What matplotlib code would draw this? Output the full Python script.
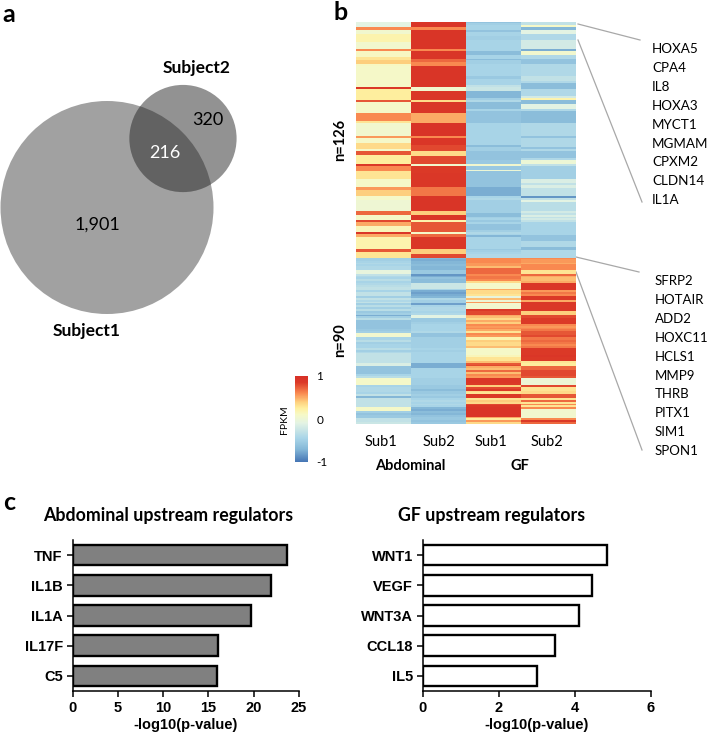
import numpy as np
from matplotlib import pyplot as plt
from matplotlib.cm import ScalarMappable
from matplotlib.colors import LinearSegmentedColormap, Normalize
from matplotlib.patches import Circle

FIG_W, FIG_H = 709, 732

# venn counts
only_subject1 = 1901
shared = 216
only_subject2 = 320

# heatmap, one list per column, top to bottom (n=126 block)
abd_sub1_top = [
    -.1, -.1, -.1, .6, .6, .05, .05, .2, .2, .2,
    .2, .05, .05, .05, .05, .6, .12, .12, .12, .3,
    .3, .4, .4, .12, .1, .1, .1, .1, .1, .1,
    .1, .1, .1, .1, .1, .85, .25, .25, .25, .25,
    .25, .25, .75, .1, .1, .1, .1, .1, .1, .6,
    .6, .6, .6, .3, .05, .05, .05, .05, .05, .05,
    .05, .55, .1, .1, .1, .35, .35, .35, .1, .75,
    .75, .25, .25, .25, .25, .25, .85, .6, .6, .6,
    .3, .3, .3, .3, .1, .1, .1, .1, .55, .55,
    .4, .4, .4, .1, .1, .02, .02, .02, .02, .02,
    .02, .7, .7, .1, .1, .1, .8, .5, .5, .15,
    .15, .15, .9, .5, .5, .2, .2, .2, .2, .2,
    .2, .75, .75, .3, .3, .3,
]
abd_sub2_top = [
    .92, .92, .92, .6, .6, .92, .92, .92, .92, .92,
    .92, .92, .92, .92, .92, .6, .92, .92, .92, .92,
    .7, .7, .6, .6, .92, .92, .92, .92, .92, .92,
    .92, .92, .92, .92, .92, .05, .05, .88, .88, .88,
    .88, .88, .35, .92, .92, .92, .92, .92, .92, .5,
    .5, .5, .5, .5, .95, .95, .95, .95, .95, .95,
    .95, .6, .9, .9, .9, .9, .8, .8, .8, .35,
    .35, .35, .8, .8, .8, .8, .05, .85, .85, .85,
    .85, .88, .88, .88, .88, .88, .88, .88, .65, .65,
    .65, .65, .65, .92, .92, .92, .92, .92, .92, .92,
    .92, .4, .4, .9, .9, .9, .2, .75, .75, .75,
    .75, .75, .1, .7, .7, .88, .88, .88, .88, .88,
    .88, .4, .4, .4, .8, .8,
]
gf_sub1_top = [
    -.6, -.5, -.45, -.45, -.45, -.6, -.45, -.45, -.5, -.5,
    -.45, -.45, -.45, -.45, -.45, -.45, -.65, -.65, -.45, -.45,
    -.65, -.5, -.5, -.45, -.45, -.45, -.45, -.45, -.45, -.55,
    -.55, -.45, -.45, -.45, -.3, -.25, -.25, -.7, -.7, -.7,
    -.7, -.5, -.4, -.65, -.65, -.65, -.65, -.45, -.6, -.6,
    -.6, -.6, -.6, -.6, -.45, -.45, -.45, -.45, -.45, -.45,
    -.45, -.45, -.45, -.45, -.45, -.45, -.65, -.5, -.5, -.6,
    -.6, -.6, -.6, -.6, -.55, -.55, .05, -.55, -.55, 0,
    -.6, -.6, -.6, -.6, -.6, -.6, -.6, -.6, -.75, -.75,
    -.75, -.75, -.75, -.45, -.4, -.5, -.5, -.5, -.5, -.5,
    -.5, -.5, -.65, -.65, -.5, -.45, -.55, -.45, -.6, -.6,
    -.6, -.5, -.4, -.45, -.7, -.45, -.45, -.45, -.45, -.45,
    -.45, -.55, -.5, -.45, -.4, -.4,
]
gf_sub2_top = [
    -.3, -.3, .1, -.7, -.7, -.1, -.1, -.4, -.4, -.4,
    -.2, -.2, -.2, -.2, -.2, -.75, .05, .05, -.4, -.4,
    -.6, -.6, -.6, -.4, -.4, -.4, -.4, -.4, -.4, -.3,
    -.3, -.3, -.4, -.65, -.65, -.65, -.4, -.4, -.4, -.4,
    -.2, .2, -.65, -.65, -.1, -.1, -.1, -.4, -.65, -.65,
    -.65, -.65, -.65, -.65, -.4, -.4, -.4, -.4, -.4, -.4,
    -.4, -.6, -.4, -.4, -.4, -.4, -.4, -.6, -.4, -.6,
    -.6, -.6, -.6, -.4, 0, 0, -.3, -.5, -.5, -.5,
    -.5, -.5, -.5, -.5, -.15, -.15, -.3, -.15, -.15, -.3,
    -.3, -.3, -.3, -.85, -.3, -.1, -.35, -.35, -.35, -.35,
    -.35, -.2, -.3, -.15, -.3, -.2, -.3, -.45, -.45, -.45,
    -.45, -.45, -.45, -.45, -.6, -.6, -.6, -.4, -.4, -.4,
    -.65, -.65, -.4, -.4, -.4, -.4,
]

# n=90 block
abd_sub1_bottom = [
    -.5, -.5, -.45, -.4, -.45, -.4, -.4, -.05, -.05, -.3,
    -.4, -.45, -.35, -.45, -.4, -.35, -.3, -.3, -.45, -.3,
    -.3, -.5, -.3, -.4, -.3, -.5, -.35, -.5, -.35, -.55,
    -.5, -.75, -.5, -.35, -.6, -.6, -.6, -.6, -.6, -.55,
    -.5, .05, .05, -.45, -.45, -.35, -.5, -.45, -.45, -.35,
    -.5, -.4, -.3, -.3, -.3, -.3, -.3, -.15, -.15, -.6,
    -.6, -.6, -.6, -.45, -.35, .1, .1, .1, .1, -.45,
    -.4, -.4, -.4, -.45, -.3, -.7, -.3, -.3, -.3, -.3,
    -.3, .1, .1, -.5, -.6, -.55, -.55, -.3, -.3, -.25,
]
abd_sub2_bottom = [
    -.7, -.75, -.7, -.7, -.65, -.7, -.7, -.55, -.55, -.85,
    -.75, -.6, -.65, -.65, -.25, -.25, -.25, -.45, -.75, -.8,
    -.75, -.7, -.4, -.5, -.5, -.8, -.45, -.4, -.4, -.45,
    -.4, -.1, -.1, -.55, -.55, -.5, -.45, -.45, -.45, -.45,
    -.4, -.6, -.6, -.5, -.5, -.5, -.5, -.5, -.5, -.45,
    -.5, -.45, -.45, -.45, -.45, -.45, -.45, -.75, -.75, -.75,
    -.45, -.45, -.45, -.45, -.45, -.5, -.5, -.5, -.5, -.55,
    -.55, -.65, -.55, -.55, -.5, -.55, -.45, -.4, -.45, -.4,
    -.45, -.7, -.75, -.65, -.7, -.6, -.55, -.55, -.6, -.55,
]
gf_sub1_bottom = [
    .6, .6, .6, .55, .55, .45, .7, .7, .7, .6,
    .65, .65, .6, .35, .08, .08, .08, .5, .35, .35,
    .3, -.05, .45, 0, .55, .05, .05, .05, .85, .8,
    .8, .5, .45, .35, .5, .4, .6, .55, .6, .5,
    .3, .6, .55, .2, .2, .4, .35, .35, .45, .1,
    .1, .1, .1, .15, .3, .3, .45, .75, .8, .5,
    .45, .7, .45, .6, .55, .9, .9, .9, .85, .4,
    .8, .85, .35, .3, .85, .85, .3, .4, .35, .8,
    .85, .9, .9, .9, .9, .9, .5, .25, .55, .35,
]
gf_sub2_bottom = [
    .6, .55, .55, .5, .6, .6, .6, .3, .3, .7,
    .5, .45, .45, .5, .9, .9, .9, .9, .55, .65,
    .6, .85, .85, .5, .88, .88, .88, .88, .88, .4,
    .4, .8, .8, .85, .85, .85, .6, .55, .6, .65,
    .75, .75, .8, .65, .65, .7, .65, .6, .65, .85,
    .85, .85, .85, .9, .85, .85, .3, .25, .25, .7,
    .7, .8, .8, .8, .75, 0, 0, 0, 0, .8,
    .3, .3, .35, .35, .75, .75, .3, .7, .3, .6,
    .3, .6, .05, .05, .05, .05, .05, .6, .85, .7,
]

sub_labels = ['Sub1', 'Sub2', 'Sub1', 'Sub2']
top_genes = ['HOXA5', 'CPA4', 'IL8', 'HOXA3', 'MYCT1', 'MGMAM', 'CPXM2', 'CLDN14', 'IL1A']
bottom_genes = ['SFRP2', 'HOTAIR', 'ADD2', 'HOXC11', 'HCLS1', 'MMP9', 'THRB', 'PITX1', 'SIM1', 'SPON1']

# upstream regulators
abd_regulators = ['TNF', 'IL1B', 'IL1A', 'IL17F', 'C5']
abd_pvalues = [23.7, 21.9, 19.7, 16.1, 15.9]
gf_regulators = ['WNT1', 'VEGF', 'WNT3A', 'CCL18', 'IL5']
gf_pvalues = [4.85, 4.45, 4.12, 3.47, 3.0]

LABEL_FONT = 'Lato'
AXIS_FONT = 'Liberation Sans'

# colour stops picked from the reference bands, (fpkm, colour)
cmap_stops = [(-1, '#4575b4'), (-.7, '#85b8d8'), (-.45, '#a9d5e8'), (-.1, '#e3f3e4'), (.1, '#f6f9c8'),
              (.25, '#fff0a0'), (.4, '#fed07e'), (.6, '#f98950'), (.85, '#dc3a28'), (1, '#d73027')]
fpkm_cmap = LinearSegmentedColormap.from_list(
    'fpkm', [((v + 1) / 2, c) for v, c in cmap_stops])


def px_axes(fig, left, top, right, bottom):
    """axes placed by pixel box, y measured from the top of the picture"""
    return fig.add_axes([left / FIG_W, 1 - bottom / FIG_H,
                         (right - left) / FIG_W, (bottom - top) / FIG_H])


def plot_venn(ax):
    # areas follow the set sizes, so the radius is sqrt(size)
    scale = 106.5 / np.sqrt(only_subject1 + shared)
    big = Circle((107, 207.5), scale * np.sqrt(only_subject1 + shared), fc='#a1a1a1', ec='none')
    small = Circle((183, 138.5), scale * np.sqrt(only_subject2 + shared), fc='#929292', ec='none')
    ax.add_patch(big)
    ax.add_patch(small)
    overlap = Circle(small.center, small.radius, fc='#626262', ec='none')
    ax.add_patch(overlap)
    overlap.set_clip_path(big)
    ax.text(97, 225, f'{only_subject1:,}', fontsize=13, ha='center', va='center', family=LABEL_FONT)
    ax.text(165, 153, str(shared), fontsize=13, ha='center', va='center', color='white', family=LABEL_FONT)
    ax.text(208, 120, str(only_subject2), fontsize=13, ha='center', va='center', family=LABEL_FONT)
    ax.text(197, 68, 'Subject2', fontsize=12.5, fontweight='bold', ha='center', va='center', family=LABEL_FONT)
    ax.text(87, 331, 'Subject1', fontsize=12.5, fontweight='bold', ha='center', va='center', family=LABEL_FONT)


def plot_heat_block(ax, columns):
    ax.imshow(np.array(columns).T, cmap=fpkm_cmap, vmin=-1, vmax=1, aspect='auto',
              interpolation='nearest')
    ax.axis('off')


def plot_regulators(ax, names, values, color, xmax, step):
    pos = np.arange(len(names))
    ax.barh(pos, values, height=0.68, color=color, edgecolor='black', linewidth=1.7)
    ax.set_ylim(len(names) - 0.5, -0.5)
    ax.set_xlim(0, xmax)
    ax.set_yticks(pos, names)
    ax.set_xticks(np.arange(0, xmax + step, step))
    for side in ['top', 'right']:
        ax.spines[side].set_visible(False)
    for side in ['left', 'bottom']:
        ax.spines[side].set_linewidth(1.1)
    ax.tick_params(length=4.5, width=1.1, pad=2.5, labelsize=10.5)
    for label in ax.get_xticklabels() + ax.get_yticklabels():
        label.set_fontweight('bold')
        label.set_family(AXIS_FONT)
    ax.set_xlabel('-log10(p-value)', fontsize=10.5, fontweight='bold', family=AXIS_FONT, labelpad=2)


fig = plt.figure(figsize=(FIG_W / 100, FIG_H / 100), dpi=100)

# overlay in pixel units for the venn, labels and the connector lines
overlay = fig.add_axes([0, 0, 1, 1])
overlay.set_xlim(0, FIG_W)
overlay.set_ylim(FIG_H, 0)
overlay.axis('off')

plot_venn(overlay)

# panel b
plot_heat_block(px_axes(fig, 356, 22, 576, 258),
                [abd_sub1_top, abd_sub2_top, gf_sub1_top, gf_sub2_top])
plot_heat_block(px_axes(fig, 356, 258, 576, 424),
                [abd_sub1_bottom, abd_sub2_bottom, gf_sub1_bottom, gf_sub2_bottom])

for x, label in zip([381, 439, 491, 547], sub_labels):
    overlay.text(x, 442, label, fontsize=10.5, ha='center', va='center', family=LABEL_FONT)
overlay.text(410, 466, 'Abdominal', fontsize=10.5, fontweight='bold', ha='center', va='center', family=LABEL_FONT)
overlay.text(520, 466, 'GF', fontsize=10.5, fontweight='bold', ha='center', va='center', family=LABEL_FONT)
overlay.text(340, 140, 'n=126', fontsize=10.5, fontweight='bold', rotation=90, ha='center', va='center', family=LABEL_FONT)
overlay.text(340, 340, 'n=90', fontsize=10.5, fontweight='bold', rotation=90, ha='center', va='center', family=LABEL_FONT)

for (x0, y0, x1, y1) in [(578, 24, 640, 40), (578, 40, 642, 202), (576, 257, 639, 272), (576, 272, 642, 450)]:
    overlay.plot([x0, x1], [y0, y1], color='#a8a8a8', lw=0.9)
for i, gene in enumerate(top_genes):
    overlay.text(652, 49 + 18.9 * i, gene, fontsize=9.7, va='center', family=LABEL_FONT)
for i, gene in enumerate(bottom_genes):
    overlay.text(655, 281 + 18.9 * i, gene, fontsize=9.5, va='center', family=LABEL_FONT)

# colour key
cax = px_axes(fig, 295, 376, 308, 462)
cbar = fig.colorbar(ScalarMappable(Normalize(-1, 1), fpkm_cmap), cax=cax, ticks=[-1, 0, 1])
cbar.outline.set_visible(False)
cbar.ax.tick_params(length=0, pad=6, labelsize=8.5)
cbar.ax.set_yticklabels(['-1', '0', '1'], family=LABEL_FONT)
overlay.text(285, 420, 'FPKM', fontsize=7.5, rotation=90, ha='center', va='center', family=LABEL_FONT)

# panel c
plot_regulators(px_axes(fig, 72.5, 540, 299, 691), abd_regulators, abd_pvalues, '#808080', 25, 5)
plot_regulators(px_axes(fig, 422.5, 540, 651, 691), gf_regulators, gf_pvalues, 'white', 6, 2)
overlay.text(168, 516, 'Abdominal upstream regulators', fontsize=12.8, fontweight='bold', ha='center', va='center', family=LABEL_FONT)
overlay.text(492, 516, 'GF upstream regulators', fontsize=12.8, fontweight='bold', ha='center', va='center', family=LABEL_FONT)

for x, y, letter in [(9, 15, 'a'), (341, 12, 'b'), (9, 502, 'c')]:
    overlay.text(x, y, letter, fontsize=18, fontweight='bold', ha='center', va='center', family=LABEL_FONT)

fig.savefig('out.png', dpi=100)
